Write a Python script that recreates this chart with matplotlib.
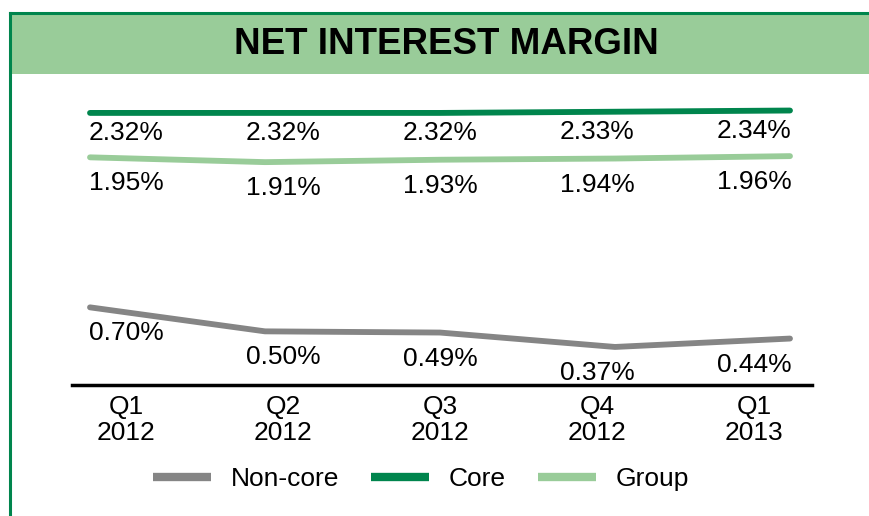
import numpy as np
import matplotlib.pyplot as plt
from matplotlib.patches import Rectangle
from matplotlib.lines import Line2D

plt.rcParams['font.family'] = ['Liberation Sans', 'DejaVu Sans']

# data
quarters = ['Q1\n2012', 'Q2\n2012', 'Q3\n2012', 'Q4\n2012', 'Q1\n2013']
core = [2.32, 2.32, 2.32, 2.33, 2.34]
group = [1.95, 1.91, 1.93, 1.94, 1.96]
non_core = [0.70, 0.50, 0.49, 0.37, 0.44]

dark_green = '#00854D'
light_green = '#99CC99'
grey = '#858585'

W, H = 870, 516
fig = plt.figure(figsize=(W / 100, H / 100), dpi=100)

# header band + frame
fig.patches.append(Rectangle((10 / W, 1 - 74 / H), 1, 61 / H, transform=fig.transFigure,
                             facecolor=light_green, edgecolor='none'))
fig.add_artist(Line2D([10 / W, 1], [1 - 13 / H, 1 - 13 / H], color=dark_green, lw=2.2))
fig.add_artist(Line2D([10 / W, 10 / W], [0, 1 - 13 / H], color=dark_green, lw=2.2))
fig.text(446 / W, 1 - 45 / H, 'NET INTEREST MARGIN', ha='center', va='center',
         fontsize=26.5, fontweight='bold')

ax = fig.add_axes([72 / W, 1 - 385 / H, 740 / W, 295 / H])
x = np.arange(len(quarters))
# labels sit a little inward from the line points
lab_x = 0.206 + x * 0.897

ax.plot(x, non_core, color=grey, lw=4.2, solid_capstyle='round', label='Non-core')
ax.plot(x, core, color=dark_green, lw=4.2, solid_capstyle='round', label='Core')
ax.plot(x, group, color=light_green, lw=4.2, solid_capstyle='round', label='Group')

for vals, off in [(core, -20), (group, -26), (non_core, -26)]:
    for i, v in enumerate(vals):
        ax.annotate(f'{v:.2f}%', (lab_x[i], v), xytext=(0, off), textcoords='offset pixels',
                    ha='center', va='center', fontsize=19)

ax.set_xlim(-18 / 175, 4 + 22 / 175)
ax.set_ylim(0.053, 2.511)
ax.set_xticks(lab_x)
ax.set_xticklabels(quarters, fontsize=19, linespacing=1.1)
ax.set_yticks([])
ax.tick_params(axis='x', length=0, pad=7)
for s in ['top', 'left', 'right']:
    ax.spines[s].set_visible(False)
ax.spines['bottom'].set_linewidth(2.5)

leg = fig.legend(loc='center', bbox_to_anchor=(421 / W, 37 / H), ncol=3, frameon=False,
                 fontsize=19, handlelength=2.2, handletextpad=0.75, columnspacing=1.2)
for h in leg.legend_handles:
    h.set_linewidth(6)
    h.set_solid_capstyle('butt')

fig.savefig('out.png', dpi=100)
